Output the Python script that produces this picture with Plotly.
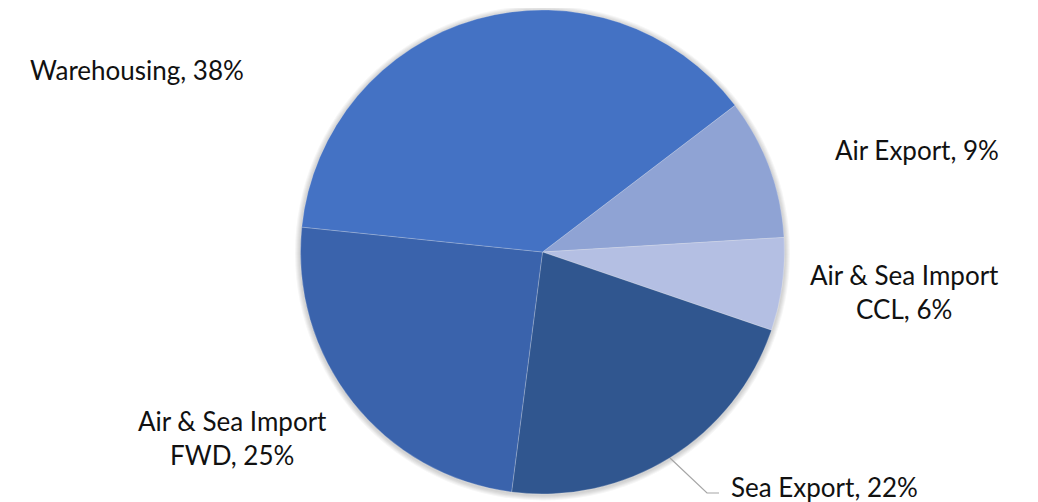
import plotly.graph_objects as go

categories = ["Air Export", "Air & Sea Import<br>CCL", "Sea Export", "Air & Sea Import<br>FWD", "Warehousing"]
values = [9.4, 6.2, 21.8, 24.6, 38.0]
pct_labels = ["9%", "6%", "22%", "25%", "38%"]
colors = ["#8FA3D4", "#B4BFE3", "#30568F", "#3A63AC", "#4472C4"]

# page body has an 8px margin; figure drawn in a 1030x494 box starting at (8, 8)
OFF = 8
W, H = 1038 - OFF, 502 - OFF

def fx(px):
    return (px - OFF) / W

def fy(py):
    return 1 - (py - OFF) / H

fig = go.Figure(go.Pie(
    labels=categories,
    values=values,
    sort=False,
    direction="clockwise",
    rotation=52.7,
    textinfo="none",
    hoverinfo="label+percent",
    marker=dict(colors=colors, line=dict(color="rgba(255,255,255,0.35)", width=0.6)),
    domain=dict(x=[fx(300), fx(785)], y=[fy(494), fy(10)]),
    showlegend=False,
))

# soft shadow around the pie
cx, cy, r = 542.5, 253, 242.5
for k in range(1, 6):
    rr = r + k
    fig.add_shape(type="circle", xref="paper", yref="paper", layer="below",
                  x0=fx(cx - rr), x1=fx(cx + rr), y0=fy(cy + rr), y1=fy(cy - rr),
                  fillcolor="rgba(0,0,0,0.035)", line=dict(width=0))

# label placement (pixel centres)
label_pos = [(917, 150), (904, 292), (824, 487), (232, 438), (137, 70)]
for cat, pct, (px, py) in zip(categories, pct_labels, label_pos):
    fig.add_annotation(
        x=fx(px), y=fy(py), xref="paper", yref="paper",
        text=f"{cat}, {pct}", showarrow=False,
        xanchor="center", yanchor="middle", align="center",
        font=dict(size=26, color="#111111", family="Lato"),
    )

# leader line for Sea Export
fig.add_shape(type="path", xref="paper", yref="paper",
              path=f"M {fx(670)} {fy(458)} L {fx(707)} {fy(493)} L {fx(719)} {fy(493)}",
              line=dict(color="#A6A6A6", width=1.2))

fig.update_layout(
    width=W, height=H,
    margin=dict(l=0, r=0, t=0, b=0),
    paper_bgcolor="white", plot_bgcolor="white",
    font=dict(family="Lato"),
)
fig.write_html("out.html")
